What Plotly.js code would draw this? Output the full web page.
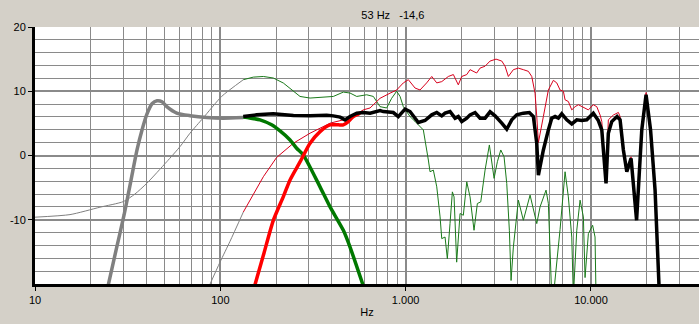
<!DOCTYPE html>
<html>
<head>
<meta charset="utf-8">
<script src="https://cdn.plot.ly/plotly-3.0.1.min.js"></script>
<style>html,body{margin:0;padding:0;background:#d4d0c8;}#chart{width:699px;height:324px;}</style>
</head>
<body>
<div id="chart"></div>
<script>
// ---- data (frequency in Hz, level in dB) ----
var xTickVals = [10, 100, 1000, 10000];
var xTickText = ["10", "100", "1.000", "10.000"];
var yTickVals = [-10, 0, 10, 20];
var yTickText = ["-10", "0", "10", "20"];
var headerText = "53 Hz\u00a0\u00a0\u00a0-14,6";
var xAxisTitle = "Hz";

// system response below crossover region (thick gray)
var sysLowFreq = [24.7, 27.36, 30.22, 32.97, 35.52, 37.8, 40.22, 42.8, 45.53, 48.46, 51.4, 58.2, 68.6, 84.5, 103.8, 133];
var sysLowDb   = [-20.5, -14.77, -9.3, -3.83, 0.86, 3.98, 6.48, 8.05, 8.52, 8.36, 7.6, 6.6, 6.2, 5.9, 5.8, 5.9];

// woofer raw below 133 Hz (thin gray)
var wooRawLowFreq = [10, 15.45, 22.4, 30.0, 34.6, 40.1, 51.4, 60.6, 68.6, 80.9, 101.7, 133.1];
var wooRawLowDb   = [-9.6, -9.2, -8.05, -7.17, -6.0, -4.34, -0.97, 1.38, 3.47, 5.86, 9.2, 11.8];

// tweeter raw below 133 Hz (thin gray)
var twRawLowFreq = [86.5, 99.6, 112.8, 133.1];
var twRawLowDb   = [-20.5, -16.6, -13.36, -8.8];

// woofer raw (thin green)
var wooRawFreq = [133.1, 150.7, 170.7, 193.2, 218.8, 247.7, 269.2, 304.9, 345.2, 407.2, 461.2, 501.2, 544.7, 615.9, 669.5, 727.5, 789.9, 840.4, 894.4, 932.8, 971.8, 1056, 1124, 1196, 1246, 1326, 1354, 1411, 1472, 1534, 1566, 1632, 1679, 1736, 1787, 1825, 1885, 1966, 2048, 2137, 2226, 2339, 2438, 2543, 2683, 2830, 3001, 3126, 3261, 3397, 3512, 3628, 3706, 3813, 4058, 4317, 4693, 5100, 5313, 5723, 5891, 6143, 6267, 6813, 7249, 7551, 7879, 8035, 8385, 8735, 9101, 9292, 9683, 10210, 10520, 10650];
var wooRawDb   = [11.8, 12.2, 12.3, 12.06, 11.28, 9.97, 9.19, 8.94, 9.09, 9.19, 9.87, 9.72, 9.19, 9.45, 9.19, 7.6, 7.4, 8.9, 10.0, 9.2, 7.6, 6.06, 5.3, 4.5, 3.98, -0.7, -2.53, -2.27, -4.88, -9.56, -12.94, -12.69, -16.06, -10.6, -5.66, -6.44, -16.6, -9.03, -9.3, -4.1, -6.44, -11.64, -7.47, -7.22, -2.27, 1.64, -3.56, -0.97, 0.86, -0.19, -4.34, -11.64, -19.45, -14.25, -6.95, -10.08, -6.17, -10.6, -8.0, -5.39, -7.47, -22, -22, -11.5, -2.53, -6.44, -12.7, -22, -11.64, -6.95, -9.56, -19.0, -12.16, -10.86, -12.69, -22];

// tweeter raw (thin red)
var twRawFreq = [133.1, 144.7, 170.7, 201.3, 247.7, 304.9, 390.9, 501.2, 591, 642.6, 727.5, 823.6, 894.4, 971.8, 1034, 1124, 1196, 1298, 1383, 1472, 1566, 1700, 1809, 1924, 2008, 2137, 2226, 2417, 2521, 2683, 2855, 3075, 3302, 3439, 3583, 3813, 4058, 4317, 4595, 4792, 4993, 5100, 5204, 5536, 5891, 6267, 6539, 6813, 7098, 7249, 7551, 7879, 8210, 8551, 9101, 9683, 10300, 10750, 11200, 11440, 12060, 12410, 13210, 14060, 14360, 14960, 15610, 16460, 17630, 18800, 19830, 20970, 22180, 23310];
var twRawDb   = [-8.8, -6.95, -3.3, -0.3, 1.9, 3.47, 5.03, 5.81, 7.1, 7.4, 8.9, 9.7, 10.2, 11.3, 11.8, 10.5, 10.2, 11.3, 12.3, 11.3, 11.5, 12.3, 12.6, 11.0, 12.3, 12.6, 13.36, 12.84, 13.6, 13.9, 14.7, 15.0, 14.7, 13.9, 12.3, 13.36, 13.6, 13.36, 13.1, 12.3, 9.7, 6.06, 2.0, 6.06, 10.2, 11.7, 11.3, 10.2, 10.0, 8.67, 8.4, 7.1, 7.6, 7.9, 7.5, 7.1, 7.9, 7.6, 6.3, 5.3, -4.0, 5.55, 6.3, 6.7, 6.06, 1.2, -2.2, -0.2, -9.8, 4.2, 9.8, 4.2, -5.2, -20.5];

// woofer filtered (thick green)
var wooFiltFreq = [133.1, 163.8, 189.2, 210.0, 237.8, 258.1, 280.5, 345.2, 390.9, 461.2, 501.2, 591.0];
var wooFiltDb   = [6.0, 5.55, 4.77, 3.83, 2.42, 1.13, 0.08, -4.88, -8.0, -11.64, -14.25, -20.3];

// tweeter filtered (thick red)
var twFiltFreq = [152.5, 172.0, 193.2, 218.8, 237.8, 269.2, 304.9, 345.2, 390.9, 433.4, 461.2, 490.7, 522.1, 567.4];
var twFiltDb   = [-20.5, -15.2, -10.1, -6.4, -3.8, -1.0, 1.9, 3.72, 4.77, 4.77, 4.77, 5.28, 6.06, 6.59];

// system (thick black)
var sysFreq = [133, 157, 193, 248, 305, 375, 407, 443, 471, 501, 545, 591, 643, 728, 758, 858, 913, 993, 1056, 1124, 1171, 1272, 1383, 1472, 1566, 1632, 1736, 1848, 1924, 2008, 2137, 2226, 2369, 2521, 2683, 2855, 3038, 3302, 3512, 3738, 3978, 4317, 4652, 4889, 5100, 5204, 5536, 5891, 6143, 6402, 6671, 6958, 7404, 7879, 8385, 8923, 9492, 10300, 10960, 11440, 12060, 12410, 12950, 13830, 14360, 14960, 15610, 16460, 17630, 18800, 19830, 20970, 22180, 23310];
var sysDb   = [6.06, 6.33, 6.48, 6.22, 6.17, 6.28, 6.17, 5.97, 5.55, 6.06, 6.59, 6.69, 6.59, 7.0, 6.84, 6.69, 6.06, 7.22, 6.84, 5.81, 5.13, 5.44, 6.33, 6.69, 6.17, 6.59, 6.84, 5.81, 6.06, 5.28, 5.81, 6.33, 6.69, 5.81, 5.81, 6.8, 6.17, 5.03, 4.09, 5.55, 6.33, 6.59, 6.69, 6.06, 1.9, -3.05, 0.86, 3.98, 5.81, 6.06, 5.81, 6.48, 5.55, 4.92, 5.55, 5.44, 5.55, 6.59, 5.44, 3.98, -4.34, 3.47, 5.28, 6.06, 5.55, 0.86, -2.53, -0.44, -10.08, 3.98, 9.45, 3.98, -5.39, -20.5];

// ---- traces ----
function tr(x, y, color, width, shape) {
  return {x: x, y: y, type: 'scatter', mode: 'lines', hoverinfo: 'skip',
          line: {color: color, width: width, shape: shape || 'linear', smoothing: 0.6}};
}
var traces = [
  tr(wooRawLowFreq, wooRawLowDb, '#808080', 1, 'spline'),
  tr(twRawLowFreq, twRawLowDb, '#808080', 1, 'spline'),
  tr(wooRawFreq, wooRawDb, '#1a7a1a', 1),
  tr(twRawFreq, twRawDb, '#d8001c', 1),
  tr(sysLowFreq, sysLowDb, '#808080', 3.5, 'spline'),
  tr(wooFiltFreq, wooFiltDb, '#007800', 3.5, 'spline'),
  tr(twFiltFreq, twFiltDb, '#ff0000', 3.5, 'spline'),
  tr(sysFreq, sysDb, '#000000', 3.5)
];

var gridCol = '#8a8a8a';
var layout = {
  width: 699, height: 324,
  margin: {l: 35, r: 0, t: 27, b: 40, pad: 0},
  paper_bgcolor: '#d4d0c8', plot_bgcolor: '#ffffff',
  showlegend: false,
  font: {family: 'Liberation Sans, Arial, sans-serif', size: 11, color: '#000'},
  title: {text: headerText, xref: 'container', yref: 'container', x: 0.562, y: 0.954,
          xanchor: 'center', yanchor: 'middle', font: {size: 11, color: '#000'}},
  xaxis: {type: 'log', range: [1, 4.583], tickmode: 'array', tickvals: xTickVals, ticktext: xTickText,
          showgrid: true, gridcolor: gridCol, gridwidth: 2,
          minor: {dtick: 'D1', showgrid: true, gridcolor: gridCol, gridwidth: 1, ticks: ''},
          showline: true, linecolor: '#000', linewidth: 3,
          ticks: 'outside', ticklen: 4, tickcolor: '#000', tickwidth: 1,
          title: {text: xAxisTitle, standoff: 4, font: {size: 11}}, zeroline: false, fixedrange: true},
  yaxis: {range: [-20, 20], tickmode: 'array', tickvals: yTickVals, ticktext: yTickText,
          showgrid: true, gridcolor: gridCol, gridwidth: 2,
          minor: {dtick: 2, showgrid: true, gridcolor: gridCol, gridwidth: 1, ticks: ''},
          showline: true, linecolor: '#000', linewidth: 3,
          ticks: 'outside', ticklen: 4, tickcolor: '#000', tickwidth: 1,
          zeroline: false, fixedrange: true}
};

Plotly.newPlot('chart', traces, layout, {displayModeBar: false, staticPlot: true});
</script>
</body>
</html>
